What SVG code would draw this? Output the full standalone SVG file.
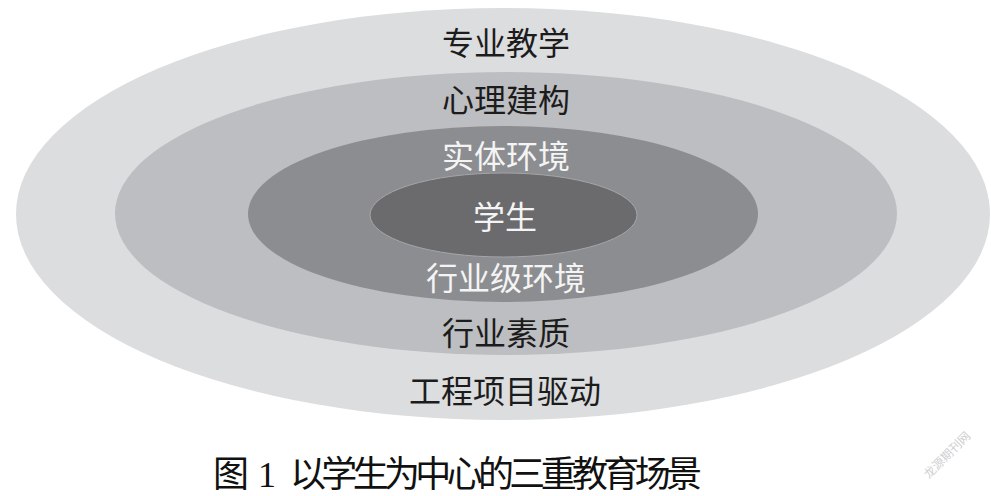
<svg xmlns="http://www.w3.org/2000/svg" width="991" height="496" viewBox="0 0 991 496">
<style>
.lbl{font-family:"Noto Sans CJK SC","Noto Sans",sans-serif;font-size:32px;text-anchor:middle}
.dark{fill:#1c1c1c}
.light{fill:#f4f4f4}
.cap{font-family:"Liberation Serif","Noto Sans CJK SC",serif;font-size:36px;fill:#111}
</style>
<rect width="991" height="496" fill="#ffffff"/>
<g id="ring-outer">
<ellipse cx="503" cy="214" rx="487" ry="206" fill="#dcdddf"/>
<text class="lbl dark" x="506" y="55">专业教学</text>
<text class="lbl dark" x="505" y="403">工程项目驱动</text>
</g>
<g id="ring-middle">
<ellipse cx="506" cy="213.5" rx="391" ry="141.5" fill="#bdbec1"/>
<text class="lbl dark" x="506" y="112">心理建构</text>
<text class="lbl dark" x="506" y="345">行业素质</text>
</g>
<g id="ring-inner">
<ellipse cx="503" cy="214" rx="255" ry="88" fill="#8c8d90"/>
<text class="lbl light" x="506" y="168">实体环境</text>
<text class="lbl light" x="506" y="290">行业级环境</text>
</g>
<g id="core">
<ellipse cx="503.5" cy="215" rx="133.5" ry="42" fill="#6b6b6e" stroke="#a5a6a9" stroke-width="1"/>
<text class="lbl light" x="505" y="229">学生</text>
</g>
<g id="connectors"/>
<g id="caption">
<text class="cap" x="213" y="487">图 1</text>
<text class="cap" x="290" y="487" textLength="412" lengthAdjust="spacing">以学生为中心的三重教育场景</text>
</g>
<text x="950" y="458" transform="rotate(-45 950 458)" font-family="Noto Sans CJK SC, sans-serif" font-size="12" fill="#d0d0d0" text-anchor="middle">龙源期刊网</text>
</svg>
